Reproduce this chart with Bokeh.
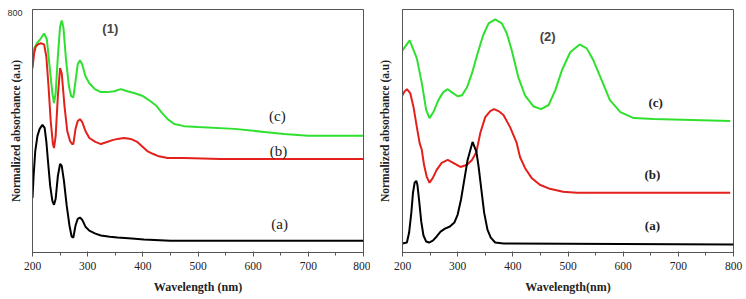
from bokeh.plotting import figure
from bokeh.layouts import row
from bokeh.models import Label, FixedTicker
from bokeh.embed import file_html
from bokeh.resources import INLINE

# ---------------- Panel (1) data ----------------
wl1_c = [200, 203, 208, 214, 221, 226, 231, 236, 239, 242, 246, 250, 253, 256, 261, 266, 270, 274,
         278, 282, 286, 290, 296, 303, 313, 324, 336, 348, 360, 372, 384, 400, 414, 425, 435, 445,
         457, 475, 500, 566, 620, 656, 700, 800]
ab1_c = [639, 672, 689, 702, 721, 702, 613, 525, 492, 525, 646, 744, 764, 741, 630, 548, 515, 511,
         564, 620, 633, 620, 580, 557, 538, 528, 528, 531, 538, 531, 525, 515, 498, 482, 459, 439,
         423, 416, 413, 407, 397, 390, 384, 384]

wl1_b = [200, 203, 206, 210, 215, 221, 225, 229, 233, 237, 239, 242, 246, 250, 253, 258, 263, 268,
         272, 274, 278, 282, 286, 290, 296, 303, 314, 324, 335, 345, 354, 366, 378, 390, 402, 408,
         418, 427, 445, 475, 540, 800]
ab1_b = [607, 656, 679, 685, 689, 685, 646, 548, 433, 357, 344, 384, 515, 607, 590, 482, 400, 367,
         357, 357, 407, 433, 439, 430, 400, 377, 364, 357, 364, 370, 374, 377, 374, 364, 344, 334,
         325, 318, 311, 311, 308, 308]

wl1_a = [200, 202, 205, 209, 213, 218, 222, 225, 228, 232, 236, 239, 242, 246, 250, 253, 257, 262,
         267, 271, 274, 278, 282, 286, 290, 296, 303, 314, 324, 340, 354, 380, 402, 450, 800]
ab1_a = [180, 252, 334, 384, 407, 420, 410, 367, 302, 220, 170, 157, 177, 252, 292, 285, 236, 154,
         89, 52, 49, 89, 111, 115, 108, 85, 72, 62, 56, 52, 49, 46, 43, 39, 39]

# ---------------- Panel (2) data ----------------
wl2_c = [200, 213, 226, 235, 243, 249, 256, 265, 274, 282, 289, 300, 308, 317, 326, 335, 346, 356,
         368, 380, 389, 398, 410, 422, 437, 451, 465, 477, 489, 504, 521, 534, 546, 561, 576, 595,
         619, 655, 794]
ab2_c = [83.2, 87.3, 79.9, 69.7, 58.6, 55.3, 57.8, 62.7, 66.0, 67.2, 66.0, 64.3, 64.7, 68.0, 73.8,
         81.1, 89.3, 94.3, 95.9, 94.3, 90.2, 83.2, 72.1, 64.7, 60.2, 59.0, 60.7, 66.8, 75.0, 82.4,
         85.6, 84.0, 79.1, 70.9, 62.7, 57.8, 55.3, 54.9, 54.1]

wl2_b = [200, 204, 208, 214, 220, 226, 231, 235, 239, 244, 249, 255, 262, 271, 282, 292, 305, 317,
         326, 334, 341, 350, 359, 366, 374, 383, 395, 407, 413, 422, 434, 449, 467, 491, 516, 794]
ab2_b = [64.7, 66.4, 67.2, 65.6, 59.8, 51.6, 45.1, 42.2, 36.1, 31.1, 28.7, 30.7, 34.0, 36.9, 38.1,
         36.9, 35.2, 36.1, 38.1, 41.4, 49.2, 55.7, 58.2, 59.0, 58.2, 56.6, 51.6, 45.1, 39.3, 34.8,
         30.7, 27.9, 26.2, 25.0, 24.6, 24.6]

wl2_a = [200, 208, 212, 216, 219, 222, 225, 227, 230, 234, 238, 243, 248, 255, 262, 269, 277, 286,
         294, 300, 306, 312, 318, 323, 327, 334, 338, 343, 348, 354, 360, 368, 383, 800]
ab2_a = [3.7, 4.1, 8.2, 16.4, 24.6, 28.7, 29.5, 27.9, 21.7, 12.7, 7.0, 4.5, 4.1, 4.9, 6.6, 8.6,
         9.8, 10.7, 12.3, 15.6, 21.7, 29.9, 38.1, 42.2, 45.5, 41.4, 35.2, 25.8, 16.4, 9.4, 6.1,
         4.1, 3.7, 3.3]

x_ticks = [200, 300, 400, 500, 600, 700, 800]
x_minor = [250, 350, 450, 550, 650, 750]

GREEN = "#2fe02f"
RED = "#e3201b"
BLACK = "#000000"
SERIF = "'Liberation Serif', 'Times New Roman', serif"
SANS = "'Liberation Sans', Arial, sans-serif"


def style(p):
    p.xaxis.ticker = FixedTicker(ticks=x_ticks, minor_ticks=x_minor)
    p.xaxis.major_tick_in = 1
    p.xaxis.major_tick_out = 4
    p.xaxis.minor_tick_in = 0
    p.xaxis.minor_tick_out = 3
    p.xaxis.axis_line_color = "#555555"
    p.xaxis.major_tick_line_color = "#555555"
    p.xaxis.minor_tick_line_color = "#555555"
    p.xaxis.major_label_text_font = SERIF
    p.xaxis.major_label_text_font_size = "11.5px"
    p.xaxis.major_label_text_color = "#222222"
    p.xaxis.major_label_standoff = 5
    p.xaxis.axis_label_text_font = SERIF
    p.xaxis.axis_label_text_font_style = "bold"
    p.xaxis.axis_label_text_font_size = "12px"
    p.xaxis.axis_label_text_color = "#222222"
    p.xaxis.axis_label_standoff = 7
    p.yaxis.major_tick_in = 0
    p.yaxis.major_tick_out = 0
    p.yaxis.minor_tick_in = 0
    p.yaxis.minor_tick_out = 0
    p.yaxis.axis_line_color = "#555555"
    p.yaxis.axis_label = "Normalized absorbance (a.u)"
    p.yaxis.axis_label_text_font = SERIF
    p.yaxis.axis_label_text_font_style = "bold"
    p.yaxis.axis_label_text_font_size = "11.5px"
    p.yaxis.axis_label_text_color = "#222222"
    p.xgrid.visible = False
    p.ygrid.visible = False
    p.outline_line_color = "#555555"
    p.outline_line_width = 1
    p.background_fill_color = "white"
    p.border_fill_color = "white"


# ---------------- Figure 1 ----------------
p1 = figure(width=370, height=299, x_range=(200, 800), y_range=(0, 800),
            output_backend="svg", toolbar_location=None,
            min_border_left=32, min_border_right=7, min_border_top=8, min_border_bottom=47)
p1.xaxis.axis_label = "Wavelength (nm)"
style(p1)
p1.yaxis.ticker = FixedTicker(ticks=[787])
p1.yaxis.major_label_overrides = {787: "800"}
p1.yaxis.major_label_text_font = SANS
p1.yaxis.major_label_text_font_size = "9px"
p1.yaxis.major_label_text_color = "#333333"
p1.yaxis.major_label_standoff = 10
p1.yaxis.axis_label_standoff = -18
p1.line(wl1_c, ab1_c, line_color=GREEN, line_width=2)
p1.line(wl1_b, ab1_b, line_color=RED, line_width=2)
p1.line(wl1_a, ab1_a, line_color=BLACK, line_width=2)

p1.add_layout(Label(x=341, y=738, text="(1)", text_font=SANS, text_font_style="bold",
                    text_font_size="13px", text_align="center", text_baseline="middle"))
for txt, xv, yv in [("(c)", 644, 449), ("(b)", 646, 334), ("(a)", 648, 95)]:
    p1.add_layout(Label(x=xv, y=yv, text=txt, text_font=SERIF, text_font_size="15px",
                        text_align="center", text_baseline="middle", text_color="#222222"))

# ---------------- Figure 2 ----------------
p2 = figure(width=376, height=299, x_range=(200, 800), y_range=(0, 100),
            output_backend="svg", toolbar_location=None,
            min_border_left=32, min_border_right=13, min_border_top=9, min_border_bottom=46)
p2.xaxis.axis_label = "Wavelength(nm)"
style(p2)
p2.yaxis.ticker = FixedTicker(ticks=[])
p2.yaxis.axis_label_standoff = 12
p2.line(wl2_c, ab2_c, line_color=GREEN, line_width=2)
p2.line(wl2_b, ab2_b, line_color=RED, line_width=2)
p2.line(wl2_a, ab2_a, line_color=BLACK, line_width=2)

p2.add_layout(Label(x=463, y=88.9, text="(2)", text_font=SANS, text_font_style="bold",
                    text_font_size="13px", text_align="center", text_baseline="middle"))
for txt, xv, yv in [("(c)", 659, 61.9), ("(b)", 653, 32.0), ("(a)", 653, 11.1)]:
    p2.add_layout(Label(x=xv, y=yv, text=txt, text_font=SERIF, text_font_style="bold",
                        text_font_size="13px", text_align="center", text_baseline="middle",
                        text_color="#222222"))

layout = row(p1, p2)
open("out.html", "w").write(file_html(layout, INLINE))
